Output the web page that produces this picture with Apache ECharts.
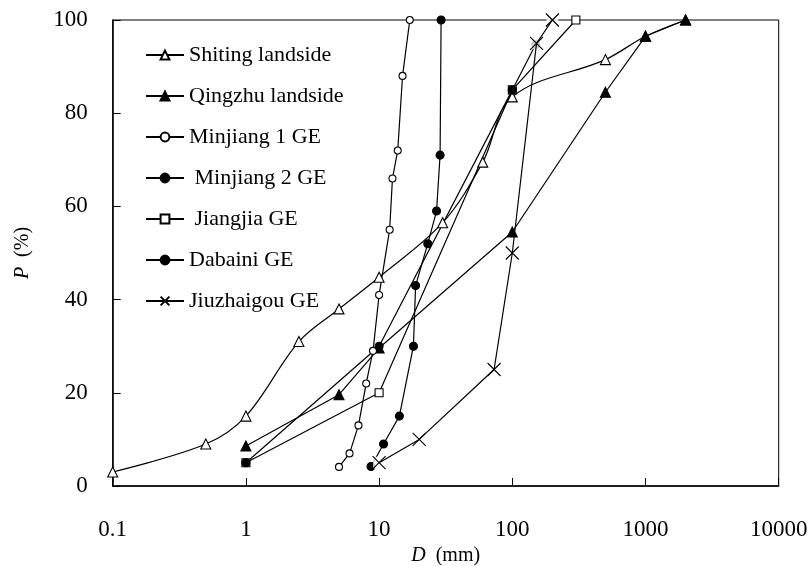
<!DOCTYPE html>
<html><head><meta charset="utf-8">
<script src="https://cdn.jsdelivr.net/npm/echarts@6/dist/echarts.min.js"></script>
<style>html,body{margin:0;padding:0;background:#fff}#c{width:811px;height:566px}</style>
</head><body><div id="c"></div>
<script>
// ---- data ----
const xTickLabels = ['0.1', '1', '10', '100', '1000', '10000'];
const yTickLabels = ['0', '20', '40', '60', '80', '100'];

const shitingX = [0.1, 0.5, 1, 2.5, 5, 10, 30, 60, 100, 500, 1000, 2000];
const shitingY = [3, 9, 15, 31, 38, 44.8, 56.5, 69.5, 83.5, 91.5, 96.5, 100];

const qingzhuX = [1, 5, 10, 100, 500, 1000, 2000];
const qingzhuY = [8.6, 19.6, 29.6, 54.5, 84.5, 96.5, 100];

const minjiang1X = [5, 6, 7, 8, 9, 10, 12, 12.6, 13.8, 15, 17];
const minjiang1Y = [4.1, 7, 13, 22, 29, 41, 55, 66, 72, 88, 100];

const minjiang2X = [8.7, 10.8, 14.2, 18.1, 18.8, 23.2, 27, 28.7, 29.2];
const minjiang2Y = [4.2, 9, 15, 30, 43, 52, 59, 71, 100];

const jiangjiaX = [1, 10, 100, 300];
const jiangjiaY = [5, 20, 85, 100];

const dabainiX = [1, 10, 100, 150];
const dabainiY = [5, 30, 85, 94.8];

const jiuzhaigouX = [10, 20, 73, 100, 152, 200];
const jiuzhaigouY = [5, 10, 25, 50, 95, 100];

const seriesNames = ['Shiting landside', 'Qingzhu landside', 'Minjiang 1 GE', ' Minjiang 2 GE', ' Jiangjia GE', 'Dabaini GE', 'Jiuzhaigou GE'];

// ---- chart ----
const FONT = '"Liberation Serif","Times New Roman",Times,serif';
const pts = (xs, ys) => xs.map((x, i) => [x, ys[i]]);
const X_PATH = 'path://M0,0L10,10M10,0L0,10';

const defs = [
  {x: shitingX, y: shitingY, symbol: 'triangle', size: 10, fill: '#fff', smooth: 0.35},
  {x: qingzhuX, y: qingzhuY, symbol: 'triangle', size: 10, fill: '#000'},
  {x: minjiang1X, y: minjiang1Y, symbol: 'circle', size: 7, fill: '#fff'},
  {x: minjiang2X, y: minjiang2Y, symbol: 'circle', size: 8, fill: '#000'},
  {x: jiangjiaX, y: jiangjiaY, symbol: 'rect', size: 8, fill: '#fff'},
  {x: dabainiX, y: dabainiY, symbol: 'circle', size: 8, fill: '#000'},
  {x: jiuzhaigouX, y: jiuzhaigouY, symbol: X_PATH, size: 13, fill: 'none', z: 4}
];

const series = defs.map((d, i) => ({
  name: seriesNames[i],
  type: 'line',
  z: d.z || 2,
  data: pts(d.x, d.y),
  smooth: d.smooth || false,
  symbol: d.symbol,
  symbolSize: d.size,
  showAllSymbol: true,
  lineStyle: {color: '#000', width: 1.2},
  itemStyle: {color: d.fill, borderColor: '#000', borderWidth: 1.1},
  emphasis: {disabled: true}
}));

// white backing of the X markers (as in the original), drawn between the other series and Jiuzhaigou
series.splice(6, 0, {
  name: 'xbg', type: 'scatter', z: 3, data: pts(jiuzhaigouX, jiuzhaigouY),
  symbol: 'rect', symbolSize: 12, itemStyle: {color: '#fff'}, silent: true,
  emphasis: {disabled: true}
});

const chart = echarts.init(document.getElementById('c'), null, {renderer: 'canvas'});
chart.setOption({
  animation: false,
  backgroundColor: '#fff',
  grid: {left: 112.7, right: 32.3, top: 20, bottom: 80, outerBoundsMode: 'none', containLabel: false,
    show: true, borderColor: '#000', borderWidth: 1, backgroundColor: 'transparent'},
  legend: {
    orient: 'vertical', left: 140, top: 39,
    itemWidth: 38, itemHeight: 11, itemGap: 19,
    textStyle: {fontFamily: FONT, fontSize: 22, color: '#000'},
    data: seriesNames,
    selectedMode: false
  },
  xAxis: {
    type: 'log', logBase: 10, min: 0.1, max: 10000,
    axisLine: {lineStyle: {color: '#000', width: 1.5}},
    axisTick: {inside: true, length: 8, lineStyle: {color: '#000', width: 1}},
    axisLabel: {
      fontFamily: FONT, fontSize: 23, color: '#000', margin: 32,
      formatter: v => xTickLabels[Math.round(Math.log10(v)) + 1]
    },
    splitLine: {show: false},
    name: '{i|D}  (mm)', nameLocation: 'middle', nameGap: 60,
    nameTextStyle: {fontFamily: FONT, fontSize: 20, color: '#000',
      rich: {i: {fontFamily: FONT, fontSize: 20, fontStyle: 'italic', color: '#000'}}}
  },
  yAxis: {
    type: 'value', min: 0, max: 100, interval: 20,
    axisLine: {show: true, lineStyle: {color: '#000', width: 1.5}},
    axisTick: {show: true, inside: true, length: 8, lineStyle: {color: '#000', width: 1}},
    axisLabel: {
      fontFamily: FONT, fontSize: 23, color: '#000', margin: 25,
      formatter: v => yTickLabels[Math.round(v / 20)]
    },
    splitLine: {show: false},
    name: '{i|P}  (%)', nameLocation: 'middle', nameGap: 80,
    nameTextStyle: {fontFamily: FONT, fontSize: 20, color: '#000',
      rich: {i: {fontFamily: FONT, fontSize: 20, fontStyle: 'italic', color: '#000'}}}
  },
  series: series
});
</script>
</body></html>
